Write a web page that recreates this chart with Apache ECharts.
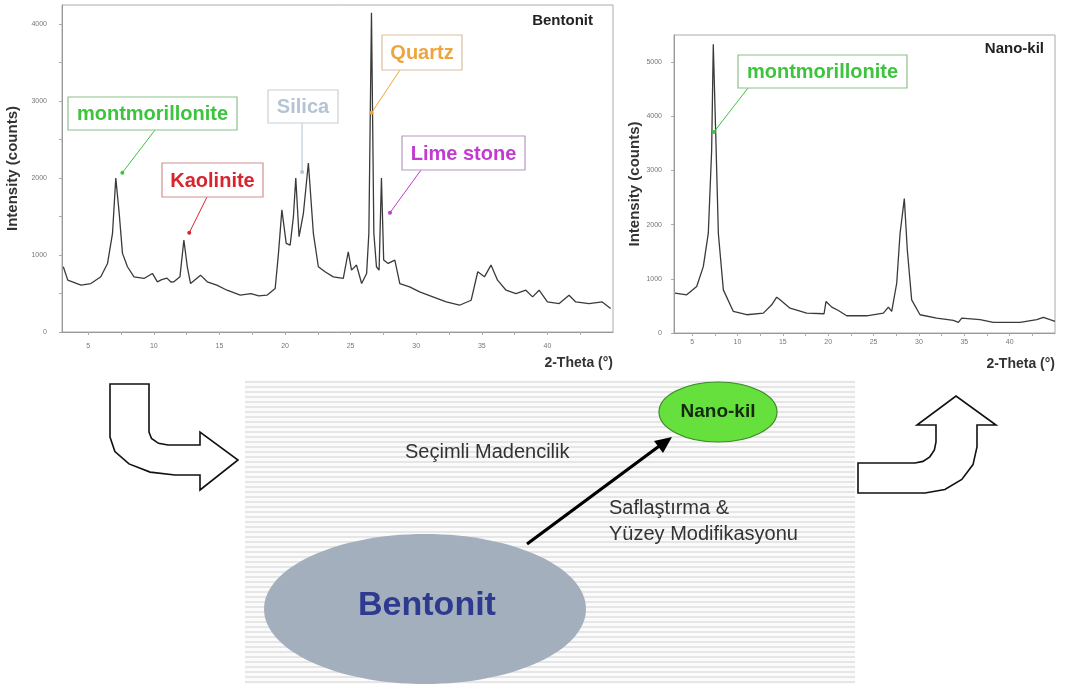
<!DOCTYPE html>
<html>
<head>
<meta charset="utf-8">
<script src="https://cdn.jsdelivr.net/npm/echarts@6/dist/echarts.min.js"></script>
<style>
  html, body { margin: 0; padding: 0; background: #fff; }
  #main { width: 1065px; height: 684px; }
</style>
</head>
<body>
<div id="main"></div>
<script>
// XRD pattern of raw bentonite (2-theta in degrees, intensity in counts)
const bentonitTheta = [3.1, 3.44, 4.45, 5.2, 5.96, 6.47, 6.85, 7.1, 7.36, 7.61, 7.99, 8.49, 9.25, 9.89, 10.27, 10.6, 11.0, 11.3, 11.53,
  11.99, 12.29, 12.55, 12.8, 13.56, 14.07, 14.8, 15.58, 16.59, 17.4, 18.0, 18.62, 19.25, 19.5, 19.76, 20.09, 20.39, 20.64, 20.82,
  21.07, 21.4, 21.78, 22.16, 22.54, 23.05, 23.68, 24.44, 24.82, 25.07, 25.45, 25.84, 26.22, 26.39, 26.59, 26.77, 26.97, 27.17,
  27.35, 27.52, 27.86, 28.37, 28.75, 29.5, 30.26, 31.27, 32.29, 33.3, 34.19, 34.69, 35.2, 35.7, 36.2, 36.85, 37.6, 38.36, 38.87,
  39.37, 40.0, 40.9, 41.65, 42.16, 43.17, 44.18, 44.82];
const bentonitCounts = [848, 674, 609, 630, 717, 891, 1283, 2000, 1543, 1022, 848, 717, 696, 761, 652, 680, 700, 650, 652,
  717, 1196, 848, 630, 739, 652, 610, 543, 478, 500, 470, 478, 565, 1022, 1587, 1152, 1130, 1500, 2000,
  1239, 1543, 2196, 1283, 848, 783, 717, 696, 1043, 804, 870, 630, 761, 1283, 4150, 1283, 848, 804,
  2000, 935, 891, 935, 630, 587, 522, 457, 391, 348, 413, 783, 717, 870, 674, 543, 500, 543, 457,
  543, 391, 370, 478, 391, 370, 391, 304];

// XRD pattern of the purified nano-clay
const nanoTheta = [3.11, 4.4, 5.5, 6.23, 6.78, 7.15, 7.33, 7.6, 7.89, 8.44, 9.54, 11.02, 12.85, 13.77, 14.32, 14.69, 15.79,
  17.63, 19.54, 19.76, 20.39, 21.12, 22.04, 24.25, 26.08, 26.63, 27.0, 27.55, 27.92, 28.39, 28.72, 29.2, 30.12, 31.96,
  33.8, 34.35, 34.72, 36.74, 38.2, 41.15, 42.99, 43.72, 44.46, 45.0];
const nanoCounts = [735, 705, 857, 1225, 1837, 3368, 5328, 3674, 1837, 796, 398, 337, 367, 520, 661, 612, 459,
  367, 355, 582, 478, 416, 318, 318, 367, 478, 398, 918, 1837, 2480, 1531, 612, 337, 275,
  233, 196, 275, 245, 196, 196, 245, 288, 245, 214];

// axis ticks
const thetaLabels = [5, 10, 15, 20, 25, 30, 35, 40];
const thetaTicks = [5, 7.5, 10, 12.5, 15, 17.5, 20, 22.5, 25, 27.5, 30, 32.5, 35, 37.5, 40, 42.5];
const bentonitYLabels = [0, 1000, 2000, 3000, 4000];
const bentonitYTicks = [0, 500, 1000, 1500, 2000, 2500, 3000, 3500, 4000];
const nanoYLabels = [0, 1000, 2000, 3000, 4000, 5000];

// phase labels and the peak each one points at
const peakNames = ['montmorillonite', 'Kaolinite', 'Silica', 'Quartz', 'Lime stone', 'montmorillonite'];
const peakGrid = [0, 0, 0, 0, 0, 1];
const peakTheta = [7.6, 12.7, 21.3, 26.6, 28.0, 7.4];
const peakCounts = [2070, 1290, 2080, 2850, 1550, 3710];

// label boxes (pixels) and colours
const boxLayout = [
  {x: 68, y: 97, w: 169, h: 33, from: [155, 130], color: '#3cc43c', border: '#8cc08c'},
  {x: 162, y: 163, w: 101, h: 34, from: [207, 197], color: '#d8242c', border: '#d09090'},
  {x: 268, y: 90, w: 70, h: 33, from: [302, 123], color: '#b4c4d4', border: '#c8d0d8'},
  {x: 382, y: 35, w: 80, h: 35, from: [400, 70], color: '#f0a53c', border: '#d8c0a0'},
  {x: 402, y: 136, w: 123, h: 34, from: [421, 170], color: '#c23ad0', border: '#b898c0'},
  {x: 738, y: 55, w: 169, h: 33, from: [748, 88], color: '#3cc43c', border: '#8cc08c'}
];

const FONT = '"Liberation Sans", Arial, sans-serif';

const chart = echarts.init(document.getElementById('main'));

function xAxisFor(gridIndex, margin) {
  return {
    type: 'value', gridIndex: gridIndex, min: 3, max: 45,
    axisLine: {onZero: false, lineStyle: {color: '#999', width: 1}},
    axisTick: {customValues: thetaTicks, length: 3, lineStyle: {color: '#aaa'}},
    axisLabel: {customValues: thetaLabels, fontSize: 7, color: '#777', margin: margin, fontFamily: FONT,
      formatter: v => String(v)},
    splitLine: {show: false},
    name: '2-Theta (°)', nameLocation: 'end', nameGap: 0,
    nameTextStyle: {
      fontFamily: FONT, fontWeight: 'bold', fontSize: 14, color: '#333',
      align: 'right', verticalAlign: 'top', padding: [24, 0, 0, 0]
    }
  };
}

function yAxisFor(gridIndex, max, labels, ticks, margin, nameGap) {
  return {
    type: 'value', gridIndex: gridIndex, min: 0, max: max,
    axisLine: {show: true, lineStyle: {color: '#999', width: 1}},
    axisTick: {show: true, customValues: ticks, length: 3, lineStyle: {color: '#aaa'}},
    axisLabel: {customValues: labels, fontSize: 7, color: '#777', margin: margin, fontFamily: FONT,
      formatter: v => String(v)},
    splitLine: {show: false},
    name: 'Intensity (counts)', nameLocation: 'middle', nameGap: nameGap,
    nameTextStyle: {fontFamily: FONT, fontWeight: 'bold', fontSize: 15, color: '#333'}
  };
}

chart.setOption({
  animation: false,
  backgroundColor: '#fff',
  grid: [
    {left: 62, top: 5, width: 551, height: 327, show: true, borderColor: '#aaa', borderWidth: 1,
      outerBoundsMode: 'none', containLabel: false},
    {left: 674, top: 35, width: 381, height: 298, show: true, borderColor: '#aaa', borderWidth: 1,
      outerBoundsMode: 'none', containLabel: false}
  ],
  xAxis: [xAxisFor(0, 11), xAxisFor(1, 6)],
  yAxis: [
    yAxisFor(0, 4250, bentonitYLabels, bentonitYTicks, 15, 42),
    yAxisFor(1, 5500, nanoYLabels, nanoYLabels, 12, 32)
  ],
  series: [
    {
      name: 'Bentonit', type: 'line', xAxisIndex: 0, yAxisIndex: 0,
      showSymbol: false, lineStyle: {color: '#3a3a3a', width: 1.3},
      data: bentonitTheta.map((t, i) => [t, bentonitCounts[i]])
    },
    {
      name: 'Nano-kil', type: 'line', xAxisIndex: 1, yAxisIndex: 1,
      showSymbol: false, lineStyle: {color: '#3a3a3a', width: 1.3},
      data: nanoTheta.map((t, i) => [t, nanoCounts[i]])
    }
  ]
});

const graphics = [];

// chart captions
graphics.push({type: 'text', z: 50, style: {text: 'Bentonit', x: 593, y: 21, align: 'right', verticalAlign: 'middle',
  font: 'bold 15px ' + FONT, fill: '#222'}});
graphics.push({type: 'text', z: 50, style: {text: 'Nano-kil', x: 1044, y: 49, align: 'right', verticalAlign: 'middle',
  font: 'bold 15px ' + FONT, fill: '#222'}});

// phase labels with pointer lines
peakNames.forEach((name, i) => {
  const b = boxLayout[i];
  const tip = chart.convertToPixel({xAxisIndex: peakGrid[i], yAxisIndex: peakGrid[i]}, [peakTheta[i], peakCounts[i]]);
  graphics.push({type: 'line', z: 40, shape: {x1: b.from[0], y1: b.from[1], x2: tip[0], y2: tip[1]},
    style: {stroke: b.color, lineWidth: 1}});
  graphics.push({type: 'circle', z: 40, shape: {cx: tip[0], cy: tip[1], r: 2}, style: {fill: b.color}});
  graphics.push({type: 'rect', z: 41, shape: {x: b.x, y: b.y, width: b.w, height: b.h},
    style: {fill: '#fff', stroke: b.border, lineWidth: 1.2}});
  graphics.push({type: 'text', z: 42, style: {text: name, x: b.x + b.w / 2, y: b.y + b.h / 2 + 1,
    align: 'center', verticalAlign: 'middle', font: 'bold 20px ' + FONT, fill: b.color}});
});

// striped process panel
graphics.push({type: 'rect', z: 1, shape: {x: 245, y: 380, width: 610, height: 304}, style: {fill: '#fbfbfb'}});
for (let y = 382; y < 684; y += 5) {
  graphics.push({type: 'line', z: 2, shape: {x1: 245, y1: y, x2: 855, y2: y}, style: {stroke: '#e6e6e6', lineWidth: 2}});
}

// bent block arrows
const leftArrow = [[110, 384], [149, 384], [149, 432], [151.5, 438.5], [158.5, 443.3], [168, 445], [200, 445], [200, 432],
  [238, 460], [200, 490], [200, 475], [175, 475], [150.1, 472.1], [129, 463.9], [114.9, 451.5], [110, 437]];
graphics.push({type: 'polygon', z: 5, shape: {points: leftArrow}, style: {fill: '#fff', stroke: '#111', lineWidth: 1.6}});

const rightArrow = [[858, 463], [915, 463], [923, 461.4], [929.8, 456.8], [934.4, 450], [936, 442], [936, 425], [917, 425],
  [956, 396], [996, 425], [977, 425], [977, 447], [973, 464.6], [961.8, 479.5], [944.9, 489.5], [925, 493], [858, 493]];
graphics.push({type: 'polygon', z: 5, shape: {points: rightArrow}, style: {fill: '#fff', stroke: '#111', lineWidth: 1.6}});

// ellipses
graphics.push({type: 'ellipse', z: 5, shape: {cx: 425, cy: 609, rx: 161, ry: 75}, style: {fill: '#a4afbd'}});
graphics.push({type: 'text', z: 6, style: {text: 'Bentonit', x: 427, y: 606, align: 'center', verticalAlign: 'middle',
  font: 'bold 34px ' + FONT, fill: '#2d3a8e'}});
graphics.push({type: 'ellipse', z: 5, shape: {cx: 718, cy: 412, rx: 59, ry: 30}, style: {fill: '#66e03c', stroke: '#3d8a2c', lineWidth: 1.2}});
graphics.push({type: 'text', z: 6, style: {text: 'Nano-kil', x: 718, y: 412, align: 'center', verticalAlign: 'middle',
  font: 'bold 19px ' + FONT, fill: '#142a10'}});

// process arrow
graphics.push({type: 'line', z: 6, shape: {x1: 527, y1: 544, x2: 662, y2: 444}, style: {stroke: '#000', lineWidth: 3.2}});
graphics.push({type: 'polygon', z: 6, shape: {points: [[672, 437], [654, 441], [663, 453]]}, style: {fill: '#000'}});

// process texts
graphics.push({type: 'text', z: 6, style: {text: 'Seçimli Madencilik', x: 405, y: 452, align: 'left', verticalAlign: 'middle',
  font: '20px ' + FONT, fill: '#333'}});
graphics.push({type: 'text', z: 6, style: {text: 'Saflaştırma &', x: 609, y: 508, align: 'left', verticalAlign: 'middle',
  font: '20px ' + FONT, fill: '#333'}});
graphics.push({type: 'text', z: 6, style: {text: 'Yüzey Modifikasyonu', x: 609, y: 534, align: 'left', verticalAlign: 'middle',
  font: '20px ' + FONT, fill: '#333'}});

chart.setOption({graphic: {elements: graphics}});
</script>
</body>
</html>
